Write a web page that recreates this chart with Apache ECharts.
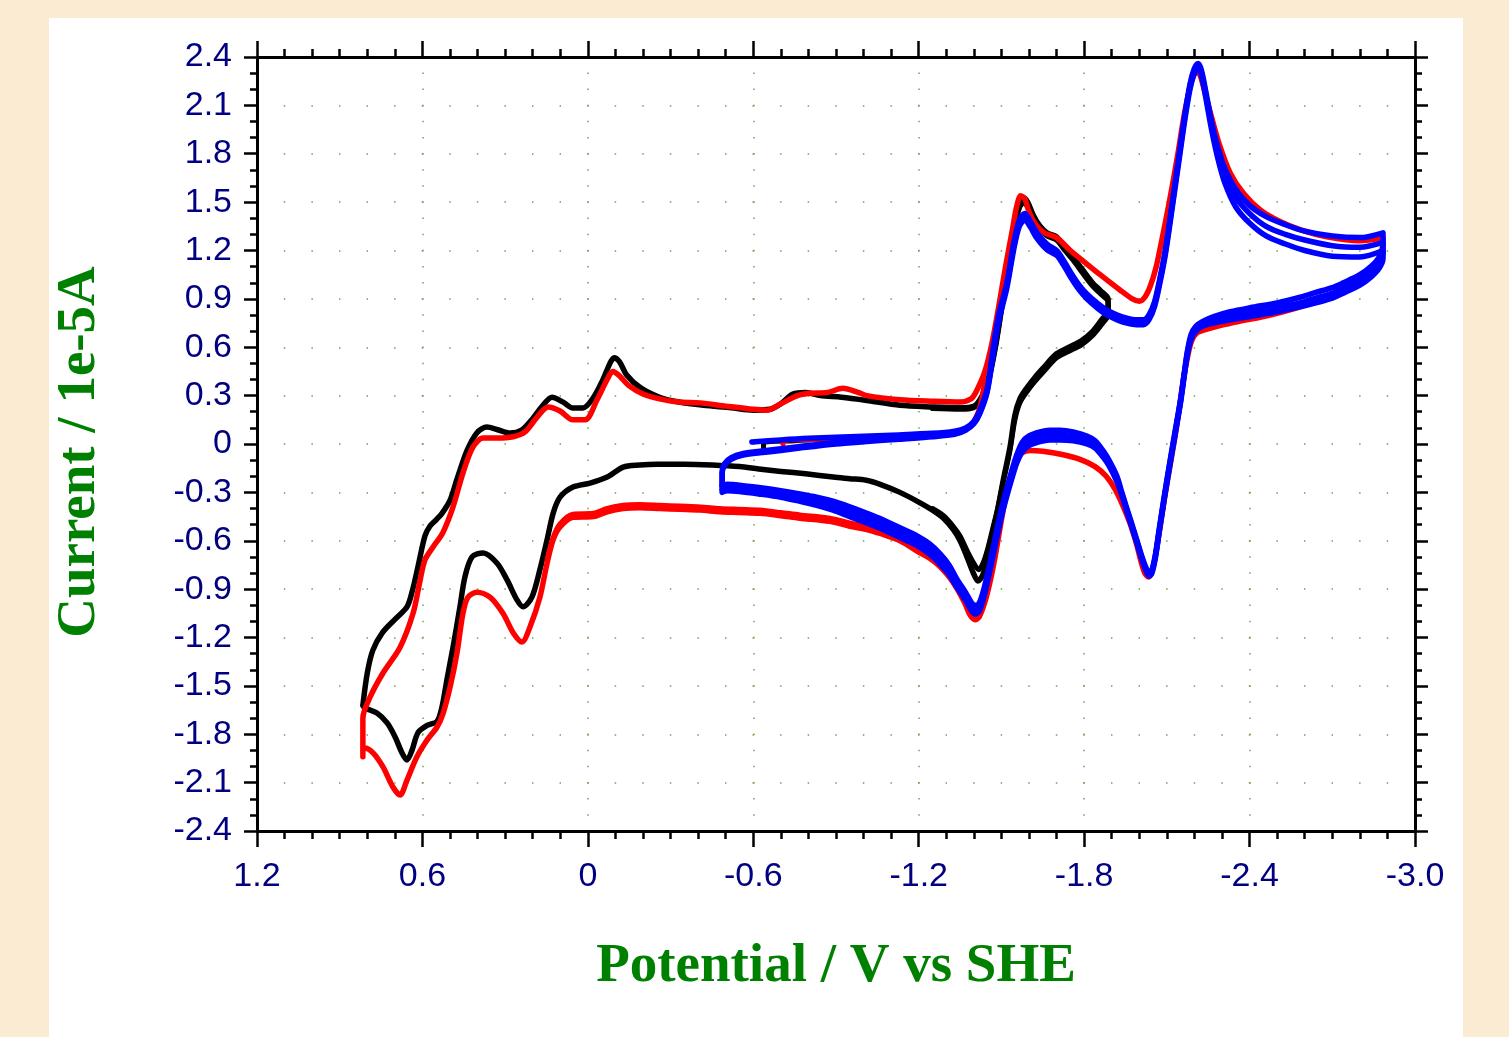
<!DOCTYPE html>
<html>
<head>
<meta charset="utf-8">
<script src="https://cdn.jsdelivr.net/npm/echarts@6.0.0/dist/echarts.min.js"></script>
<style>
  html, body { margin: 0; padding: 0; background: #FBEBD2; }
  #panel { position: absolute; left: 49px; top: 18px; width: 1414px; height: 1019px; background: #ffffff; }
  #chart { position: absolute; left: 0; top: 0; width: 1509px; height: 1037px; }
</style>
</head>
<body>
<div id="panel"></div>
<div id="chart"></div>
<script>
// Axis ticks: potential (V vs SHE) and current (1e-5 A)
const potentialTicks = [1.2, 0.6, 0, -0.6, -1.2, -1.8, -2.4, -3.0];
const potentialTickLabels = ['1.2', '0.6', '0', '-0.6', '-1.2', '-1.8', '-2.4', '-3.0'];
const currentTicks = [2.4, 2.1, 1.8, 1.5, 1.2, 0.9, 0.6, 0.3, 0, -0.3, -0.6, -0.9, -1.2, -1.5, -1.8, -2.1, -2.4];
const currentTickLabels = ['2.4', '2.1', '1.8', '1.5', '1.2', '0.9', '0.6', '0.3', '0', '-0.3', '-0.6', '-0.9', '-1.2', '-1.5', '-1.8', '-2.1', '-2.4'];

// Black CV: window 0.82 V to -1.89 V; [potential, current]
const blackStart = [[-0.637,-0.04],[-0.637,0.005],[-0.75,0.02],[-0.90,0.032],[-1.05,0.042],[-1.20,0.052],[-1.30,0.062],[-1.36,0.085],[-1.40,0.13],[-1.425,0.21],[-1.45,0.36]];
const blackSweep1 = [
  [0.816,-1.62],[0.80,-1.42],[0.78,-1.28],[0.745,-1.17],[0.695,-1.08],[0.656,-1.01],[0.638,-0.92],[0.616,-0.76],
  [0.591,-0.57],[0.573,-0.51],[0.55,-0.47],[0.529,-0.43],[0.50,-0.35],[0.475,-0.22],[0.438,-0.04],[0.402,0.07],
  [0.366,0.105],[0.33,0.09],[0.282,0.068],[0.24,0.087],[0.199,0.16],[0.163,0.24],[0.13,0.29],[0.09,0.26],
  [0.054,0.223],[0.018,0.223],[-0.019,0.285],[-0.055,0.40],[-0.08,0.50],[-0.095,0.535],[-0.115,0.51],[-0.14,0.43],
  [-0.19,0.35],[-0.26,0.29],[-0.33,0.26],[-0.42,0.24],[-0.52,0.225],[-0.60,0.21],[-0.66,0.215],[-0.70,0.25],
  [-0.744,0.31],[-0.79,0.32],[-0.843,0.30],[-0.92,0.29],[-1.012,0.27],[-1.132,0.24],[-1.25,0.23],[-1.35,0.225],
  [-1.40,0.235],[-1.43,0.30],[-1.455,0.42],[-1.48,0.63],[-1.505,0.90],[-1.53,1.18],[-1.55,1.38],[-1.567,1.50],
  [-1.58,1.525],[-1.595,1.50],[-1.615,1.42],[-1.64,1.35],[-1.665,1.31],[-1.70,1.285],[-1.73,1.22],[-1.76,1.16],
  [-1.79,1.09],[-1.83,1.00],[-1.86,0.95],[-1.887,0.90],
  [-1.887,0.82],[-1.868,0.78],[-1.832,0.70],[-1.79,0.64],[-1.745,0.60],[-1.70,0.56],[-1.651,0.47],[-1.62,0.41],
  [-1.593,0.35],[-1.567,0.28],[-1.549,0.18],[-1.531,-0.02],[-1.506,-0.23],[-1.485,-0.42],[-1.469,-0.55],[-1.45,-0.70],
  [-1.433,-0.81],[-1.415,-0.85],[-1.398,-0.80],[-1.375,-0.70],[-1.35,-0.60],[-1.325,-0.53],[-1.29,-0.46],[-1.25,-0.41],
  [-1.20,-0.36],[-1.132,-0.30],[-1.06,-0.25],[-1.01,-0.225],[-0.95,-0.215],[-0.89,-0.205],[-0.79,-0.185],[-0.70,-0.17],
  [-0.62,-0.155],[-0.55,-0.14],[-0.45,-0.13],[-0.35,-0.125],[-0.25,-0.125],[-0.189,-0.13],[-0.128,-0.143],[-0.07,-0.205],
  [-0.008,-0.242],[0.054,-0.267],[0.101,-0.33],[0.126,-0.43],[0.148,-0.595],[0.174,-0.78],[0.203,-0.95],[0.235,-1.01],
  [0.257,-0.967],[0.293,-0.843],[0.33,-0.738],[0.38,-0.676],[0.42,-0.70],[0.446,-0.825],[0.464,-1.011],[0.489,-1.26],
  [0.511,-1.46],[0.529,-1.63],[0.547,-1.72],[0.583,-1.745],[0.616,-1.79],[0.638,-1.90],[0.656,-1.96],[0.674,-1.916],
  [0.699,-1.817],[0.728,-1.73],[0.765,-1.668],[0.809,-1.637],[0.816,-1.62]
];
const blackSweep2 = [
  [-1.25,0.22],[-1.35,0.215],[-1.40,0.225],[-1.43,0.28],[-1.455,0.40],[-1.48,0.61],[-1.505,0.88],[-1.53,1.16],
  [-1.55,1.36],[-1.567,1.47],[-1.58,1.495],[-1.595,1.47],[-1.615,1.40],[-1.64,1.33],[-1.665,1.29],[-1.70,1.265],
  [-1.73,1.20],[-1.76,1.14],[-1.79,1.07],[-1.83,0.98],[-1.86,0.93],[-1.887,0.88],[-1.887,0.80],[-1.868,0.75],
  [-1.832,0.675],[-1.79,0.615],[-1.745,0.575],[-1.70,0.535],[-1.651,0.445],[-1.62,0.385],[-1.593,0.325],[-1.567,0.255],
  [-1.549,0.15],[-1.531,-0.04],[-1.506,-0.24],[-1.485,-0.41],[-1.469,-0.52],[-1.45,-0.65],[-1.433,-0.74],[-1.418,-0.78],
  [-1.40,-0.74],[-1.375,-0.66],[-1.35,-0.57],[-1.325,-0.51],[-1.29,-0.445],[-1.25,-0.40]
];

// Red CV: window 0.82 V to -2.88 V
const redStart = [[-0.708,0.0],[-0.708,0.02],[-0.85,0.03],[-1.0,0.04],[-1.15,0.05],[-1.28,0.06],[-1.35,0.08],[-1.39,0.12],[-1.42,0.22],[-1.44,0.40]];
const redSweep1 = [
  [0.816,-1.94],[0.816,-1.70],[0.79,-1.57],[0.743,-1.42],[0.681,-1.26],[0.634,-1.05],[0.609,-0.85],[0.591,-0.72],
  [0.562,-0.64],[0.526,-0.55],[0.489,-0.39],[0.453,-0.18],[0.417,-0.02],[0.38,0.037],[0.33,0.037],[0.271,0.045],
  [0.228,0.075],[0.184,0.167],[0.144,0.23],[0.101,0.205],[0.054,0.15],[0.01,0.15],[-0.033,0.273],[-0.07,0.40],
  [-0.09,0.45],[-0.11,0.43],[-0.15,0.36],[-0.20,0.31],[-0.26,0.28],[-0.33,0.26],[-0.407,0.255],[-0.50,0.235],
  [-0.60,0.215],[-0.65,0.21],[-0.70,0.25],[-0.76,0.30],[-0.806,0.315],[-0.87,0.32],[-0.925,0.345],[-0.98,0.32],
  [-1.012,0.30],[-1.132,0.275],[-1.25,0.265],[-1.35,0.26],[-1.39,0.28],[-1.41,0.33],[-1.44,0.45],[-1.465,0.62],
  [-1.49,0.85],[-1.515,1.10],[-1.54,1.33],[-1.555,1.47],[-1.57,1.54],[-1.585,1.52],[-1.60,1.44],[-1.625,1.36],
  [-1.655,1.31],[-1.70,1.28],[-1.75,1.20],[-1.80,1.13],[-1.858,1.05],[-1.93,0.955],[-1.975,0.90],[-2.00,0.885],
  [-2.02,0.91],[-2.04,0.98],[-2.06,1.09],[-2.08,1.25],[-2.11,1.51],[-2.14,1.80],[-2.165,2.06],[-2.19,2.25],
  [-2.207,2.31],[-2.22,2.29],[-2.238,2.18],[-2.26,2.04],[-2.29,1.86],[-2.33,1.68],[-2.38,1.55],[-2.44,1.45],
  [-2.51,1.38],[-2.583,1.33],[-2.68,1.285],[-2.80,1.26],[-2.884,1.28],
  [-2.884,1.20],[-2.86,1.10],[-2.80,1.03],[-2.764,0.99],[-2.70,0.93],[-2.64,0.885],[-2.583,0.85],[-2.50,0.81],
  [-2.438,0.785],[-2.36,0.76],[-2.293,0.735],[-2.24,0.71],[-2.21,0.69],[-2.19,0.64],[-2.175,0.54],[-2.16,0.40],
  [-2.145,0.22],[-2.13,0.05],[-2.11,-0.15],[-2.093,-0.32],[-2.075,-0.52],[-2.06,-0.68],[-2.046,-0.79],[-2.034,-0.825],
  [-2.02,-0.80],[-2.005,-0.72],[-1.99,-0.62],[-1.966,-0.49],[-1.94,-0.38],[-1.912,-0.28],[-1.88,-0.20],[-1.84,-0.14],
  [-1.785,-0.095],[-1.72,-0.065],[-1.65,-0.045],[-1.604,-0.04],[-1.575,-0.055],[-1.555,-0.10],[-1.535,-0.20],[-1.513,-0.35],
  [-1.495,-0.52],[-1.477,-0.70],[-1.458,-0.86],[-1.44,-0.98],[-1.42,-1.07],[-1.404,-1.09],[-1.386,-1.06],[-1.368,-0.99],
  [-1.34,-0.90],[-1.313,-0.83],[-1.277,-0.76],[-1.241,-0.71],[-1.205,-0.675],[-1.132,-0.60],[-1.06,-0.555],[-1.012,-0.53],
  [-0.95,-0.51],[-0.878,-0.48],[-0.769,-0.46],[-0.70,-0.445],[-0.624,-0.43],[-0.55,-0.425],[-0.479,-0.42],[-0.407,-0.41],
  [-0.334,-0.405],[-0.262,-0.40],[-0.189,-0.395],[-0.128,-0.40],[-0.07,-0.42],[-0.02,-0.45],[0.054,-0.455],[0.101,-0.515],
  [0.126,-0.595],[0.148,-0.74],[0.174,-0.95],[0.21,-1.135],[0.239,-1.228],[0.271,-1.17],[0.308,-1.05],[0.355,-0.95],
  [0.402,-0.92],[0.435,-0.95],[0.453,-1.05],[0.475,-1.30],[0.50,-1.51],[0.525,-1.67],[0.547,-1.755],[0.583,-1.836],
  [0.62,-1.94],[0.656,-2.084],[0.681,-2.177],[0.707,-2.127],[0.743,-2.003],[0.779,-1.916],[0.809,-1.885],[0.816,-1.90]
];
const redSweep2 = [
  [-1.477,-0.68],[-1.458,-0.83],[-1.44,-0.95],[-1.42,-1.04],[-1.404,-1.06],[-1.386,-1.03],[-1.368,-0.96],[-1.34,-0.87],
  [-1.313,-0.80],[-1.277,-0.73],[-1.241,-0.68],[-1.205,-0.645],[-1.132,-0.575],[-1.06,-0.53],[-1.012,-0.51],[-0.95,-0.49],
  [-0.878,-0.46],[-0.769,-0.44],[-0.70,-0.425],[-0.624,-0.41],[-0.55,-0.405],[-0.479,-0.40],[-0.407,-0.39],[-0.334,-0.385],
  [-0.262,-0.38],[-0.189,-0.375],[-0.128,-0.38],[-0.07,-0.40],[-0.02,-0.43],[0.054,-0.435],[0.101,-0.495],[0.126,-0.58],
  [0.148,-0.72]
];

// Blue CV: window -0.49 V to -2.88 V, three cycles
const blueSweep1 = [
  [-0.595,0.012],[-0.70,0.025],[-0.80,0.035],[-0.95,0.045],[-1.10,0.055],[-1.25,0.066],[-1.33,0.08],[-1.37,0.10],
  [-1.40,0.14],[-1.422,0.21],[-1.448,0.34],[-1.469,0.58],[-1.49,0.80],[-1.52,1.00],[-1.545,1.25],[-1.565,1.39],
  [-1.585,1.43],[-1.605,1.38],[-1.629,1.31],[-1.665,1.24],[-1.70,1.20],[-1.725,1.14],[-1.749,1.07],[-1.78,0.99],
  [-1.81,0.93],[-1.85,0.87],[-1.883,0.83],[-1.92,0.80],[-1.955,0.78],[-1.99,0.77],[-2.015,0.77],[-2.035,0.80],
  [-2.055,0.88],[-2.075,1.03],[-2.095,1.21],[-2.12,1.50],[-2.145,1.80],[-2.166,2.05],[-2.185,2.24],[-2.20,2.33],
  [-2.213,2.36],[-2.225,2.32],[-2.242,2.18],[-2.262,2.00],[-2.285,1.84],[-2.31,1.71],[-2.35,1.58],[-2.40,1.48],
  [-2.46,1.41],[-2.53,1.36],[-2.60,1.32],[-2.70,1.29],[-2.80,1.28],[-2.884,1.31],
  [-2.884,1.25],[-2.87,1.16],[-2.84,1.10],[-2.80,1.05],[-2.74,1.00],[-2.70,0.97],[-2.64,0.94],[-2.583,0.91],
  [-2.50,0.875],[-2.402,0.845],[-2.33,0.82],[-2.27,0.79],[-2.23,0.76],[-2.205,0.73],[-2.188,0.68],[-2.175,0.58],
  [-2.163,0.44],[-2.15,0.28],[-2.13,0.08],[-2.11,-0.12],[-2.09,-0.33],[-2.072,-0.53],[-2.058,-0.69],[-2.046,-0.78],
  [-2.036,-0.80],[-2.025,-0.77],[-2.01,-0.70],[-1.992,-0.60],[-1.97,-0.48],[-1.955,-0.40],[-1.935,-0.29],[-1.919,-0.20],
  [-1.89,-0.10],[-1.868,-0.04],[-1.84,0.02],[-1.81,0.05],[-1.76,0.075],[-1.712,0.085],[-1.675,0.085],[-1.64,0.075],
  [-1.60,0.05],[-1.575,0.01],[-1.555,-0.07],[-1.542,-0.14],[-1.525,-0.24],[-1.506,-0.36],[-1.487,-0.50],[-1.469,-0.65],
  [-1.45,-0.80],[-1.433,-0.92],[-1.418,-0.99],[-1.404,-1.00],[-1.39,-0.98],[-1.37,-0.92],[-1.339,-0.84],[-1.31,-0.75],
  [-1.277,-0.68],[-1.24,-0.62],[-1.194,-0.57],[-1.132,-0.52],[-1.07,-0.47],[-1.012,-0.43],[-0.95,-0.39],[-0.889,-0.355],
  [-0.83,-0.33],[-0.769,-0.31],[-0.70,-0.29],[-0.62,-0.27],[-0.55,-0.255],[-0.505,-0.25],[-0.487,-0.26]
];
const blueSweep2 = [
  [-0.487,-0.26],[-0.487,-0.17],[-0.497,-0.12],[-0.52,-0.085],[-0.56,-0.06],[-0.624,-0.045],[-0.70,-0.03],[-0.769,-0.015],
  [-0.90,0.01],[-1.012,0.025],[-1.13,0.04],[-1.25,0.055],[-1.33,0.07],[-1.37,0.095],[-1.40,0.135],[-1.422,0.20],
  [-1.448,0.33],[-1.469,0.56],[-1.49,0.78],[-1.52,0.99],[-1.545,1.23],[-1.565,1.37],[-1.585,1.41],[-1.605,1.36],
  [-1.629,1.29],[-1.665,1.22],[-1.70,1.185],[-1.725,1.125],[-1.749,1.055],[-1.78,0.975],[-1.81,0.915],[-1.85,0.855],
  [-1.883,0.815],[-1.92,0.785],[-1.955,0.765],[-1.99,0.755],[-2.015,0.755],[-2.035,0.785],[-2.055,0.865],[-2.075,1.015],
  [-2.095,1.195],[-2.12,1.49],[-2.145,1.79],[-2.166,2.04],[-2.185,2.23],[-2.20,2.32],[-2.213,2.35],[-2.225,2.31],
  [-2.242,2.16],[-2.262,1.98],[-2.285,1.81],[-2.31,1.67],[-2.35,1.53],[-2.40,1.43],[-2.46,1.35],[-2.53,1.30],
  [-2.60,1.265],[-2.70,1.23],[-2.80,1.22],[-2.884,1.25],
  [-2.884,1.19],[-2.87,1.12],[-2.84,1.065],[-2.80,1.015],[-2.74,0.965],[-2.70,0.935],[-2.64,0.905],[-2.583,0.875],
  [-2.50,0.845],[-2.402,0.815],[-2.33,0.795],[-2.27,0.77],[-2.23,0.745],[-2.205,0.715],[-2.188,0.665],[-2.175,0.57],
  [-2.163,0.43],[-2.15,0.27],[-2.13,0.07],[-2.11,-0.13],[-2.09,-0.34],[-2.072,-0.54],[-2.058,-0.70],[-2.046,-0.79],
  [-2.036,-0.81],[-2.025,-0.78],[-2.01,-0.71],[-1.992,-0.61],[-1.97,-0.49],[-1.955,-0.41],[-1.935,-0.30],[-1.919,-0.22],
  [-1.89,-0.12],[-1.868,-0.065],[-1.84,-0.005],[-1.81,0.025],[-1.76,0.045],[-1.712,0.055],[-1.675,0.055],[-1.64,0.045],
  [-1.60,0.02],[-1.575,-0.02],[-1.555,-0.095],[-1.542,-0.165],[-1.525,-0.265],[-1.506,-0.39],[-1.487,-0.53],[-1.469,-0.68],
  [-1.45,-0.83],[-1.433,-0.95],[-1.418,-1.02],[-1.404,-1.035],[-1.39,-1.01],[-1.37,-0.95],[-1.339,-0.87],[-1.31,-0.785],
  [-1.277,-0.715],[-1.24,-0.655],[-1.194,-0.60],[-1.132,-0.55],[-1.07,-0.50],[-1.012,-0.46],[-0.95,-0.42],[-0.889,-0.385],
  [-0.83,-0.355],[-0.769,-0.335],[-0.70,-0.315],[-0.62,-0.295],[-0.55,-0.28],[-0.505,-0.275],[-0.487,-0.285]
];
const blueSweep3 = [
  [-0.487,-0.285],[-0.487,-0.18],[-0.497,-0.13],[-0.52,-0.095],[-0.56,-0.07],[-0.624,-0.055],[-0.70,-0.04],[-0.769,-0.025],
  [-0.90,0.0],[-1.012,0.015],[-1.13,0.03],[-1.25,0.045],[-1.33,0.06],[-1.37,0.085],[-1.40,0.125],[-1.422,0.19],
  [-1.448,0.32],[-1.469,0.54],[-1.49,0.76],[-1.52,0.97],[-1.545,1.21],[-1.565,1.35],[-1.585,1.39],[-1.605,1.345],
  [-1.629,1.275],[-1.665,1.205],[-1.70,1.17],[-1.725,1.11],[-1.749,1.04],[-1.78,0.96],[-1.81,0.90],[-1.85,0.84],
  [-1.883,0.80],[-1.92,0.77],[-1.955,0.75],[-1.99,0.74],[-2.015,0.74],[-2.035,0.77],[-2.055,0.85],[-2.075,1.0],
  [-2.095,1.18],[-2.12,1.47],[-2.145,1.77],[-2.166,2.02],[-2.185,2.21],[-2.20,2.30],[-2.213,2.33],[-2.225,2.29],
  [-2.242,2.14],[-2.262,1.95],[-2.285,1.77],[-2.31,1.62],[-2.35,1.47],[-2.40,1.37],[-2.46,1.29],[-2.53,1.24],
  [-2.60,1.20],[-2.70,1.165],[-2.80,1.16],[-2.884,1.20],
  [-2.884,1.15],[-2.87,1.09],[-2.84,1.035],[-2.80,0.985],[-2.74,0.935],[-2.70,0.905],[-2.64,0.875],[-2.583,0.85],
  [-2.50,0.82],[-2.402,0.79],[-2.33,0.77],[-2.27,0.75],[-2.23,0.73],[-2.205,0.70],[-2.188,0.65],[-2.175,0.56],
  [-2.163,0.42],[-2.15,0.26],[-2.13,0.06],[-2.11,-0.14],[-2.09,-0.35],[-2.072,-0.55],[-2.058,-0.71],[-2.046,-0.80],
  [-2.036,-0.82],[-2.025,-0.79],[-2.01,-0.72],[-1.992,-0.62],[-1.97,-0.50],[-1.955,-0.42],[-1.935,-0.31],[-1.919,-0.235],
  [-1.89,-0.135],[-1.868,-0.08],[-1.84,-0.025],[-1.81,0.0],[-1.76,0.02],[-1.712,0.025],[-1.675,0.025],[-1.64,0.015],
  [-1.60,-0.01],[-1.575,-0.05],[-1.555,-0.12],[-1.542,-0.19],[-1.525,-0.29],[-1.506,-0.41],[-1.487,-0.55],[-1.469,-0.70],
  [-1.45,-0.85],[-1.433,-0.97],[-1.418,-1.04],[-1.404,-1.055],[-1.39,-1.03],[-1.37,-0.97],[-1.339,-0.89],[-1.31,-0.81],
  [-1.277,-0.745],[-1.24,-0.685],[-1.194,-0.63],[-1.132,-0.58],[-1.07,-0.53],[-1.012,-0.49],[-0.95,-0.45],[-0.889,-0.41],
  [-0.83,-0.38],[-0.769,-0.355],[-0.70,-0.33],[-0.62,-0.31],[-0.55,-0.295],[-0.505,-0.29],[-0.487,-0.30]
];

// ---- rendering ----
const LABEL_COLOR = '#000080';
const TITLE_COLOR = '#008000';
const GRID_DOT = '#6fa548';

function tickLabel(values, labels) {
  return function (v) {
    let best = 0;
    for (let i = 1; i < values.length; i++) {
      if (Math.abs(values[i] - v) < Math.abs(values[best] - v)) best = i;
    }
    return labels[best];
  };
}

const plot = { left: 257, top: 57, width: 1158, height: 774 };
const xMin = Math.min(...potentialTicks), xMax = Math.max(...potentialTicks);
const yMin = Math.min(...currentTicks), yMax = Math.max(...currentTicks);
const xStep = 0.6, yStep = 0.3;
// dotted grid: one dot per 0.1 V along horizontal lines, per 0.1 unit along vertical lines
const dotGapX = plot.width / ((xMax - xMin) / 0.1);
const dotGapY = plot.height / ((yMax - yMin) / 0.1);

function xAxisCfg(pos, labels) {
  return {
    type: 'value', position: pos, min: xMin, max: xMax, interval: xStep, inverse: true,
    axisLine: { show: true, onZero: false, lineStyle: { color: '#000', width: 3 } },
    axisTick: { show: true, inside: false, length: 16, lineStyle: { color: '#000', width: 2.5 } },
    minorTick: { show: true, splitNumber: 6, length: 8, lineStyle: { color: '#000', width: 2.5 } },
    axisLabel: {
      show: labels, margin: 29, color: LABEL_COLOR, fontFamily: 'Liberation Sans', fontSize: 34,
      formatter: tickLabel(potentialTicks, potentialTickLabels)
    },
    splitLine: {
      show: labels,
      lineStyle: { color: GRID_DOT, width: 1.5, type: [1.5, dotGapY - 1.5], dashOffset: 0.75 }
    },
    minorSplitLine: { show: false }
  };
}
function yAxisCfg(pos, labels) {
  return {
    type: 'value', position: pos, min: yMin, max: yMax, interval: yStep,
    axisLine: { show: true, onZero: false, lineStyle: { color: '#000', width: 3 } },
    axisTick: { show: true, inside: false, length: 13, lineStyle: { color: '#000', width: 2.5 } },
    minorTick: { show: true, splitNumber: 3, length: 7, lineStyle: { color: '#000', width: 2.5 } },
    axisLabel: {
      show: labels, margin: 25, color: LABEL_COLOR, fontFamily: 'Liberation Sans', fontSize: 34,
      formatter: tickLabel(currentTicks, currentTickLabels)
    },
    splitLine: {
      show: labels,
      lineStyle: { color: GRID_DOT, width: 1.5, type: [1.5, dotGapX - 1.5], dashOffset: 0.75 }
    },
    minorSplitLine: { show: false }
  };
}

function trace(name, data, color, width) {
  return {
    name: name, type: 'line', data: data, xAxisIndex: 0, yAxisIndex: 0,
    showSymbol: false, symbol: 'none', smooth: 0.3, silent: true,
    lineStyle: { color: color, width: width, join: 'round', cap: 'round' }
  };
}

const chart = echarts.init(document.getElementById('chart'), null, { renderer: 'canvas' });
chart.setOption({
  animation: false,
  backgroundColor: 'transparent',
  grid: { left: plot.left, top: plot.top, width: plot.width, height: plot.height, containLabel: false },
  xAxis: [xAxisCfg('bottom', true), xAxisCfg('top', false)],
  yAxis: [yAxisCfg('left', true), yAxisCfg('right', false)],
  graphic: [
    {
      type: 'text', x: plot.left + plot.width / 2, y: 967, silent: true,
      style: {
        text: 'Potential / V vs SHE', fill: TITLE_COLOR,
        font: 'bold 55px "Liberation Serif", "Times New Roman", serif',
        align: 'center', verticalAlign: 'middle'
      }
    },
    {
      type: 'text', x: 80, y: 452, rotation: Math.PI / 2, silent: true,
      style: {
        text: 'Current / 1e-5A', fill: TITLE_COLOR,
        font: 'bold 55px "Liberation Serif", "Times New Roman", serif',
        align: 'center', verticalAlign: 'middle'
      }
    }
  ],
  series: [
    trace('black start', blackStart, '#000000', 5),
    trace('black cycle 1', blackSweep1, '#000000', 5.5),
    trace('black cycle 2', blackSweep2, '#000000', 5),
    trace('red start', redStart, '#ff0000', 5),
    trace('red cycle 1', redSweep1, '#ff0000', 5.5),
    trace('red cycle 2', redSweep2, '#ff0000', 5),
    trace('blue cycle 1', blueSweep1, '#0000ff', 5.5),
    trace('blue cycle 2', blueSweep2, '#0000ff', 5.5),
    trace('blue cycle 3', blueSweep3, '#0000ff', 5.5)
  ]
});
</script>
</body>
</html>
